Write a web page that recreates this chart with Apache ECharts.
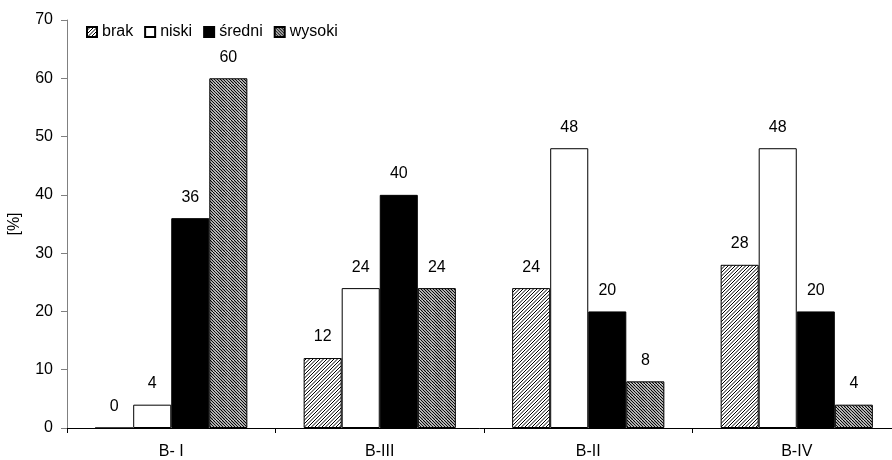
<!DOCTYPE html>
<html>
<head>
<meta charset="utf-8">
<script src="https://cdn.jsdelivr.net/npm/echarts@6/dist/echarts.min.js"></script>
<style>
  html, body { margin: 0; padding: 0; background: #fff; }
  #chart { width: 892px; height: 460px; }
</style>
</head>
<body>
<div id="chart"></div>
<script>
// Groups and shares (%) per level
const categories = ['B- I', 'B-III', 'B-II', 'B-IV'];
const brak   = [0, 12, 24, 28];
const niski  = [4, 24, 48, 48];
const sredni = [36, 40, 20, 20];
const wysoki = [60, 24, 8, 4];
const yTicks = { min: 0, max: 70, interval: 10 };

// Diagonal hatch fill drawn on a small tile canvas
function hatch(dir, step, lw) {
  const s = step * 4;
  const c = document.createElement('canvas');
  c.width = s; c.height = s;
  const ctx = c.getContext('2d');
  ctx.fillStyle = '#fff';
  ctx.fillRect(0, 0, s, s);
  ctx.strokeStyle = '#000';
  ctx.lineWidth = lw;
  for (let k = -s; k <= 2 * s; k += step) {
    ctx.beginPath();
    if (dir === '/') { ctx.moveTo(k, s); ctx.lineTo(k + s, 0); }
    else { ctx.moveTo(k, 0); ctx.lineTo(k + s, s); }
    ctx.stroke();
  }
  return { image: c, repeat: 'repeat' };
}

const FONT = 'Liberation Sans, Arial, sans-serif';
const labelStyle = { show: true, position: 'top', distance: 13, color: '#000', fontSize: 16, fontFamily: FONT };

function bar(name, data, color) {
  return {
    name, type: 'bar', data,
    barGap: '0%', barCategoryGap: '27%',
    itemStyle: { color, borderColor: '#000', borderWidth: 1 },
    label: labelStyle,
    emphasis: { disabled: true }
  };
}

const chart = echarts.init(document.getElementById('chart'), null, { renderer: 'canvas' });
chart.setOption({
  animation: false,
  backgroundColor: '#fff',
  textStyle: { fontFamily: FONT },
  // plot area runs slightly past the right edge of the canvas
  grid: { left: 67, width: 834, top: 20, height: 408, outerBoundsMode: 'none', containLabel: false },
  legend: {
    left: 86, top: 24, padding: 0,
    itemWidth: 10, itemHeight: 10, itemGap: 11,
    textStyle: { fontSize: 16, color: '#000', fontFamily: FONT },
    icon: 'rect',
    data: ['brak', 'niski', 'średni', 'wysoki']
  },
  xAxis: {
    type: 'category', data: categories,
    axisLine: { lineStyle: { color: '#000', width: 1 } },
    axisTick: { show: true, length: 5, lineStyle: { color: '#000' } },
    axisLabel: { color: '#000', fontSize: 16, margin: 16, fontFamily: FONT }
  },
  yAxis: {
    type: 'value', min: yTicks.min, max: yTicks.max, interval: yTicks.interval,
    name: '[%]', nameLocation: 'middle', nameRotate: 90, nameGap: 44,
    nameTextStyle: { color: '#000', fontSize: 16, fontFamily: FONT },
    axisLine: { show: true, lineStyle: { color: '#808080', width: 1 } },
    axisTick: { show: true, length: 6, lineStyle: { color: '#808080' } },
    axisLabel: { color: '#000', fontSize: 16, margin: 14, fontFamily: FONT },
    splitLine: { show: false }
  },
  series: [
    bar('brak', brak, hatch('/', 3.5, 1)),
    bar('niski', niski, '#fff'),
    bar('średni', sredni, '#000'),
    bar('wysoki', wysoki, hatch('\\', 3, 1.2))
  ]
});
</script>
</body>
</html>
